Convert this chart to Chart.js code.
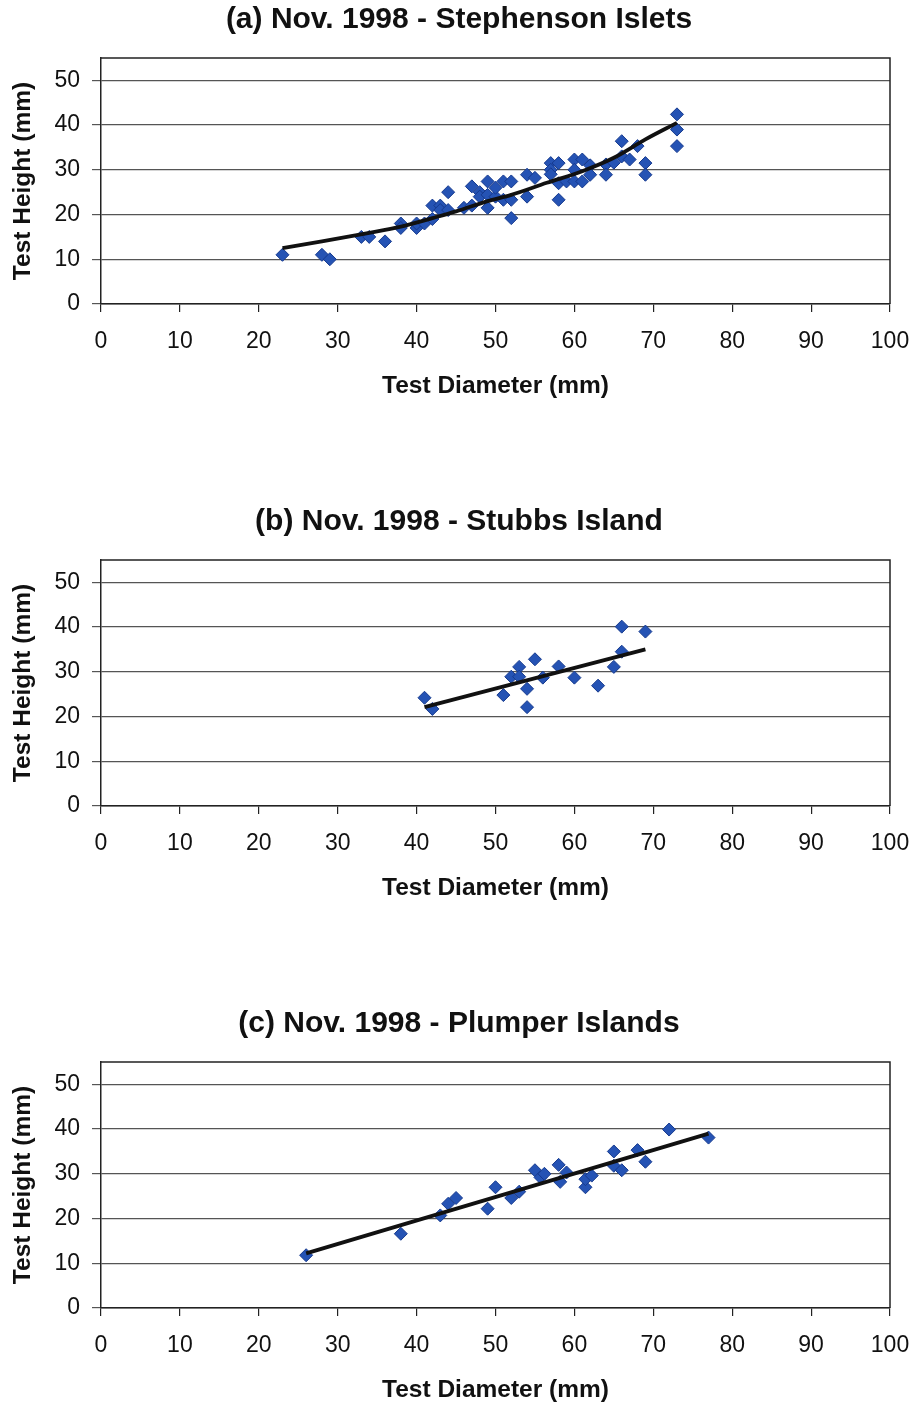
<!DOCTYPE html>
<html>
<head>
<meta charset="utf-8">
<script src="https://cdn.jsdelivr.net/npm/chart.js@4"></script>
<style>
  body { margin: 0; background: #fff; }
  .panel { position: absolute; left: 0; width: 918px; height: 401px; }
</style>
</head>
<body>
<div class="panel" style="top:0px"><canvas id="chartA"></canvas></div>
<div class="panel" style="top:502px"><canvas id="chartB"></canvas></div>
<div class="panel" style="top:1004px"><canvas id="chartC"></canvas></div>
<script>
// (a) Stephenson Islets
const aDiameter = [23, 28, 29, 33, 34, 36, 38, 38, 40, 40, 41, 42, 42, 43, 43, 44, 44, 46, 47, 47,
  48, 48, 49, 49, 49, 50, 50, 51, 51, 52, 52, 52, 54, 54, 55, 57, 57, 57, 58, 58,
  58, 59, 60, 60, 60, 61, 61, 62, 62, 64, 64, 65, 66, 66, 67, 68, 69, 69, 73, 73, 73];
const aHeight = [11, 11, 10, 15, 15, 14, 18, 17, 17, 18, 18, 19, 22, 22, 21, 25, 21, 21.5, 22, 26.3,
  25, 24, 27.4, 21.5, 24.4, 24, 26, 27.4, 23.3, 27.4, 19.2, 23.3, 28.9, 24, 28.2, 31.5, 30, 29, 31.5, 23.3,
  27, 27.4, 32.3, 30, 27.4, 32.3, 27.4, 31, 28.9, 31.2, 28.9, 31.6, 36.4, 33, 32.3, 35.3, 31.5, 28.9, 42.4, 39, 35.3];
const aTrendDiameter = [23, 28, 34, 38, 42, 45, 49, 52, 56.5, 61, 65, 69, 73];
const aTrendHeight = [12.5, 14, 15.9, 17.3, 19.2, 20.7, 23, 24.4, 27.1, 29.7, 32.7, 36.8, 40.5];

// (b) Stubbs Island
const bDiameter = [41, 42, 51, 52, 53, 53, 54, 54, 55, 56, 58, 60, 63, 65, 66, 66, 69];
const bHeight = [24.2, 21.7, 24.8, 28.9, 31.1, 28.9, 26.2, 22.1, 32.8, 28.7, 31.2, 28.7, 26.9, 31.1, 40.1, 34.5, 39];
const bTrendDiameter = [41, 69];
const bTrendHeight = [22.1, 35];

// (c) Plumper Islands
const cDiameter = [26, 38, 43, 44, 45, 49, 50, 52, 53, 55, 55.7, 56.2, 58, 59, 58.2, 61.4, 61.4, 62.2,
  65, 65, 66, 68, 69, 72, 77];
const cHeight = [11.8, 16.6, 20.7, 23.3, 24.6, 22.2, 27, 24.6, 26, 30.8, 29.2, 30, 32, 30.3, 28.2, 27, 28.8, 29.6,
  35, 31.8, 30.8, 35.3, 32.7, 39.9, 38.1];
const cTrendDiameter = [26, 77];
const cTrendHeight = [12.2, 39];

const xTicks = [0, 10, 20, 30, 40, 50, 60, 70, 80, 90, 100];
const yTicks = [0, 10, 20, 30, 40, 50];

const FONT = "'Liberation Sans', Arial, sans-serif";

// top and right edges of the plot frame
const plotBox = {
  id: 'plotBox',
  afterDraw(chart) {
    const { ctx, chartArea: a } = chart;
    ctx.save();
    ctx.strokeStyle = '#222';
    ctx.lineWidth = 1.5;
    ctx.beginPath();
    ctx.moveTo(a.left, a.top);
    ctx.lineTo(a.right, a.top);
    ctx.lineTo(a.right, a.bottom);
    ctx.stroke();
    ctx.restore();
  }
};

function pairs(xs, ys) {
  return xs.map((x, i) => ({ x: x, y: ys[i] }));
}

function makeChart(id, title, xs, ys, tx, ty) {
  new Chart(document.getElementById(id), {
    type: 'scatter',
    data: {
      datasets: [
        {
          type: 'line',
          data: pairs(tx, ty),
          borderColor: '#111',
          borderWidth: 3.8,
          pointRadius: 0,
          fill: false,
          cubicInterpolationMode: 'monotone'
        },
        {
          data: pairs(xs, ys),
          pointStyle: 'rectRot',
          pointRadius: 6.5,
          backgroundColor: '#2553b4',
          borderColor: '#163a8e',
          borderWidth: 1
        }
      ]
    },
    options: {
      responsive: true,
      maintainAspectRatio: false,
      animation: false,
      layout: { padding: 0 },
      plugins: {
        legend: { display: false },
        tooltip: { enabled: false },
        title: {
          display: true,
          text: title,
          color: '#111',
          font: { family: FONT, size: 30, weight: 'bold' },
          padding: { top: 2, bottom: 20 }
        }
      },
      scales: {
        x: {
          type: 'linear',
          min: 0,
          max: 100,
          afterBuildTicks: s => { s.ticks = xTicks.map(v => ({ value: v })); },
          afterFit: s => { s.height = 97; s.paddingLeft = 0; s.paddingRight = 0; },
          ticks: { color: '#111', font: { family: FONT, size: 23 }, padding: 16, maxRotation: 0 },
          grid: { drawOnChartArea: false, drawTicks: true, tickLength: 8, color: '#222', lineWidth: 1.2 },
          border: { color: '#222', width: 1.5 },
          title: {
            display: true,
            text: 'Test Diameter (mm)',
            color: '#111',
            font: { family: FONT, size: 24.5, weight: 'bold' },
            padding: { top: 0, bottom: 0 }
          }
        },
        y: {
          min: 0,
          max: 55,
          afterBuildTicks: s => { s.ticks = yTicks.map(v => ({ value: v })); },
          afterFit: s => { s.width = 101; s.paddingTop = 0; s.paddingBottom = 0; },
          ticks: { color: '#111', font: { family: FONT, size: 23 }, padding: 12 },
          grid: { color: '#555', lineWidth: 1.2, drawTicks: true, tickLength: 9 },
          border: { color: '#222', width: 1.5 },
          title: {
            display: true,
            text: 'Test Height (mm)',
            color: '#111',
            font: { family: FONT, size: 24.5, weight: 'bold' },
            padding: { top: 9, bottom: 0 }
          }
        },
        // empty right-hand margin so the plot ends at x = 100 near the page edge
        yRight: {
          type: 'linear',
          position: 'right',
          min: 0,
          max: 55,
          afterFit: s => { s.width = 28; s.paddingTop = 0; s.paddingBottom = 0; },
          ticks: { display: false },
          grid: { display: false },
          border: { display: false }
        }
      }
    },
    plugins: [plotBox]
  });
}

makeChart('chartA', '(a) Nov. 1998 - Stephenson Islets', aDiameter, aHeight, aTrendDiameter, aTrendHeight);
makeChart('chartB', '(b) Nov. 1998 - Stubbs Island', bDiameter, bHeight, bTrendDiameter, bTrendHeight);
makeChart('chartC', '(c) Nov. 1998 - Plumper Islands', cDiameter, cHeight, cTrendDiameter, cTrendHeight);
</script>
</body>
</html>
